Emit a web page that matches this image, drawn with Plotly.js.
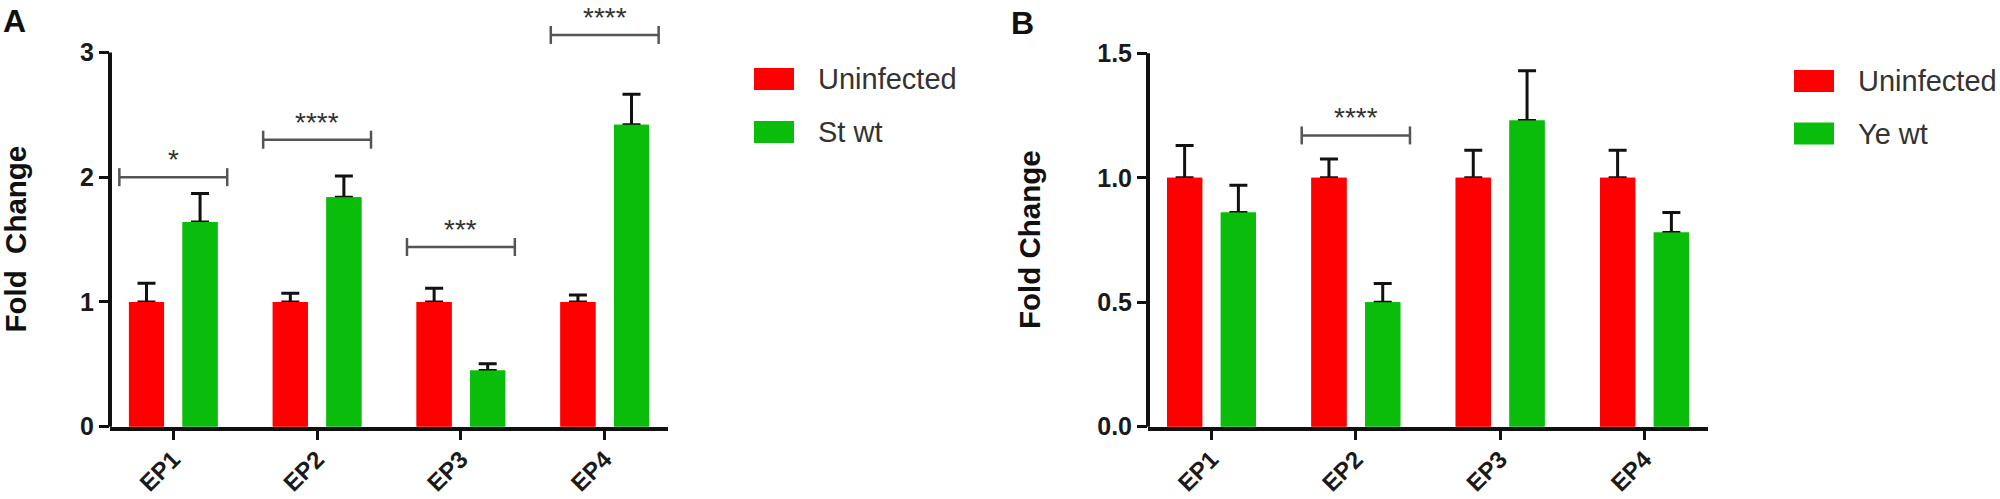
<!DOCTYPE html>
<html>
<head>
<meta charset="utf-8">
<script src="https://cdn.plot.ly/plotly-3.0.1.min.js"></script>
<style>
  html, body { margin: 0; padding: 0; background: #fff; }
  #chart { width: 2000px; height: 499px; }
</style>
</head>
<body>
<div id="chart"></div>
<script>
// values
const categories = ['EP1', 'EP2', 'EP3', 'EP4'];

const namesA = ['Uninfected', 'St wt'];
const uninfA = [1.0, 1.0, 1.0, 1.0];
const uninfErrA = [0.15, 0.07, 0.11, 0.055];
const stwtA = [1.64, 1.84, 0.45, 2.42];
const stwtErrA = [0.23, 0.17, 0.055, 0.245];
const yTicksA = [0, 1, 2, 3];
const sigIdxA = [0, 1, 2, 3];
const sigYA = [2.0, 2.3, 1.44, 3.14];
const sigTextA = ['*', '****', '***', '****'];

const namesB = ['Uninfected', 'Ye wt'];
const uninfB = [1.0, 1.0, 1.0, 1.0];
const uninfErrB = [0.13, 0.075, 0.11, 0.11];
const yewtB = [0.86, 0.50, 1.23, 0.78];
const yewtErrB = [0.11, 0.075, 0.20, 0.08];
const yTicksB = [0, 0.5, 1.0, 1.5];
const sigIdxB = [1];
const sigYB = [1.17];
const sigTextB = ['****'];

const W = 2000, H = 499;
const FONT = 'Liberation Sans, Arial, sans-serif';
const RED = '#ff0000', GREEN = '#0bbd0b', INK = '#111111';
const px = v => v / W;
const py = v => 1 - v / H;

function barTrace(name, vals, errs, color, group, xa, ya) {
    const t = {
        type: 'bar', name: name, x: categories, y: vals, xaxis: xa, yaxis: ya, offsetgroup: group,
        marker: { color: color, line: { width: 0 } },
        showlegend: false, hoverinfo: 'skip'
    };
    if (errs) {
        t.error_y = { type: 'data', symmetric: false, array: errs, arrayminus: vals.map(() => 0),
                      color: INK, thickness: 3, width: 9 };
    }
    return t;
}

// the plain copies go on top so only the upper half of each error bar shows
const traces = [
    barTrace(namesA[0], uninfA, uninfErrA, RED, 'u', 'x', 'y'),
    barTrace(namesA[1], stwtA, stwtErrA, GREEN, 'i', 'x', 'y'),
    barTrace(namesA[0], uninfA, null, RED, 'u', 'x', 'y'),
    barTrace(namesA[1], stwtA, null, GREEN, 'i', 'x', 'y'),
    barTrace(namesB[0], uninfB, uninfErrB, RED, 'u', 'x2', 'y2'),
    barTrace(namesB[1], yewtB, yewtErrB, GREEN, 'i', 'x2', 'y2'),
    barTrace(namesB[0], uninfB, null, RED, 'u', 'x2', 'y2'),
    barTrace(namesB[1], yewtB, null, GREEN, 'i', 'x2', 'y2')
];

let shapes = [];
let annotations = [];

// y axis lines stop at the top tick, like the original
shapes.push({ type: 'line', xref: 'x domain', x0: 0, x1: 0, yref: 'y', y0: -0.03, y1: yTicksA[yTicksA.length - 1],
              line: { color: INK, width: 4 } });
shapes.push({ type: 'line', xref: 'x2 domain', x0: 0, x1: 0, yref: 'y2', y0: -0.015, y1: yTicksB[yTicksB.length - 1],
              line: { color: INK, width: 4 } });

// significance brackets
function addBrackets(idx, ys, texts, xr, yr) {
    idx.forEach((c, i) => {
        const left = c - 0.375, right = c + 0.375;
        const brk = { color: '#555555', width: 2.5 };
        shapes.push({ type: 'line', xref: xr, yref: yr, x0: left, x1: right, y0: ys[i], y1: ys[i], line: brk });
        [left, right].forEach(xx => {
            shapes.push({ type: 'line', xref: xr, yref: yr, x0: xx, x1: xx,
                          ysizemode: 'pixel', yanchor: ys[i], y0: -9, y1: 9, line: brk });
        });
        annotations.push({ xref: xr, yref: yr, x: c, y: ys[i], text: texts[i], showarrow: false,
                           xanchor: 'center', yanchor: 'bottom', yshift: 0,
                           font: { family: FONT, size: 28, color: '#333333' } });
    });
}
addBrackets(sigIdxA, sigYA, sigTextA, 'x', 'y');
addBrackets(sigIdxB, sigYB, sigTextB, 'x2', 'y2');

// legends drawn by hand, big swatches like the original
function addLegend(names, x0, yTops) {
    const colors = [RED, GREEN];
    names.forEach((n, i) => {
        shapes.push({ type: 'rect', xref: 'paper', yref: 'paper', x0: px(x0), x1: px(x0 + 40),
                      y0: py(yTops[i]), y1: py(yTops[i] + 22), fillcolor: colors[i], line: { width: 0 } });
        annotations.push({ xref: 'paper', yref: 'paper', x: px(x0 + 62), y: py(yTops[i] + 11),
                           xanchor: 'left', yanchor: 'middle', showarrow: false, text: n,
                           font: { family: FONT, size: 29, color: '#333333' } });
    });
}
addLegend(namesA, 754, [68, 121]);
addLegend(namesB, 1794, [70, 122.5]);

// panel letters and y titles
annotations.push({ xref: 'paper', yref: 'paper', x: px(1), y: py(1), xanchor: 'left', yanchor: 'top', showarrow: false,
                   text: 'A', font: { family: FONT, size: 32, weight: 'bold', color: INK } });
annotations.push({ xref: 'paper', yref: 'paper', x: px(1009), y: py(3), xanchor: 'left', yanchor: 'top', showarrow: false,
                   text: 'B', font: { family: FONT, size: 32, weight: 'bold', color: INK } });
annotations.push({ xref: 'paper', yref: 'y', x: px(16), y: 1.5, xanchor: 'center', yanchor: 'middle', showarrow: false,
                   textangle: -90, text: 'Fold\u00a0 Change', font: { family: FONT, size: 29.5, weight: 'bold', color: INK } });
annotations.push({ xref: 'paper', yref: 'y2', x: px(1030), y: 0.75, xanchor: 'center', yanchor: 'middle', showarrow: false,
                   textangle: -90, text: 'Fold Change', font: { family: FONT, size: 29.5, weight: 'bold', color: INK } });

const xFont = { family: FONT, size: 24, weight: 'bold', color: '#1a1a1a' };
const yFont = { family: FONT, size: 25, weight: 'bold', color: '#1a1a1a' };
const yDomain = [1 - 426.7 / H, 1];

function xAxis(dom, anchor) {
    return {
        domain: dom, anchor: anchor, type: 'category', range: [-0.44, 3.44],
        showline: true, linewidth: 4, linecolor: INK, showgrid: false, zeroline: false,
        ticks: 'outside', ticklen: 9, tickwidth: 3, tickcolor: INK,
        tickangle: -45, tickfont: xFont, ticklabelstandoff: -4, fixedrange: true
    };
}
function yAxis(rng, vals, fmt, anchor) {
    return {
        domain: yDomain, anchor: anchor, range: rng, showline: false, showgrid: false, zeroline: false,
        tickmode: 'array', tickvals: vals, tickformat: fmt,
        ticks: 'outside', ticklen: 10, tickwidth: 3, tickcolor: INK, tickfont: yFont, fixedrange: true
    };
}

const layout = {
    width: W, height: H,
    paper_bgcolor: '#ffffff', plot_bgcolor: '#ffffff',
    margin: { l: 0, r: 0, t: 0, b: 0 },
    barmode: 'group', bargap: 0.255, bargroupgap: 0.345,
    showlegend: false,
    xaxis: xAxis([px(110), px(668)], 'y'),
    yaxis: yAxis([0, 3.42], yTicksA, 'd', 'x'),
    xaxis2: xAxis([px(1148), px(1708)], 'y2'),
    yaxis2: yAxis([0, 1.714], yTicksB, '.1f', 'x2'),
    shapes: shapes,
    annotations: annotations
};

Plotly.newPlot('chart', traces, layout, { displayModeBar: false, staticPlot: true });
</script>
</body>
</html>
